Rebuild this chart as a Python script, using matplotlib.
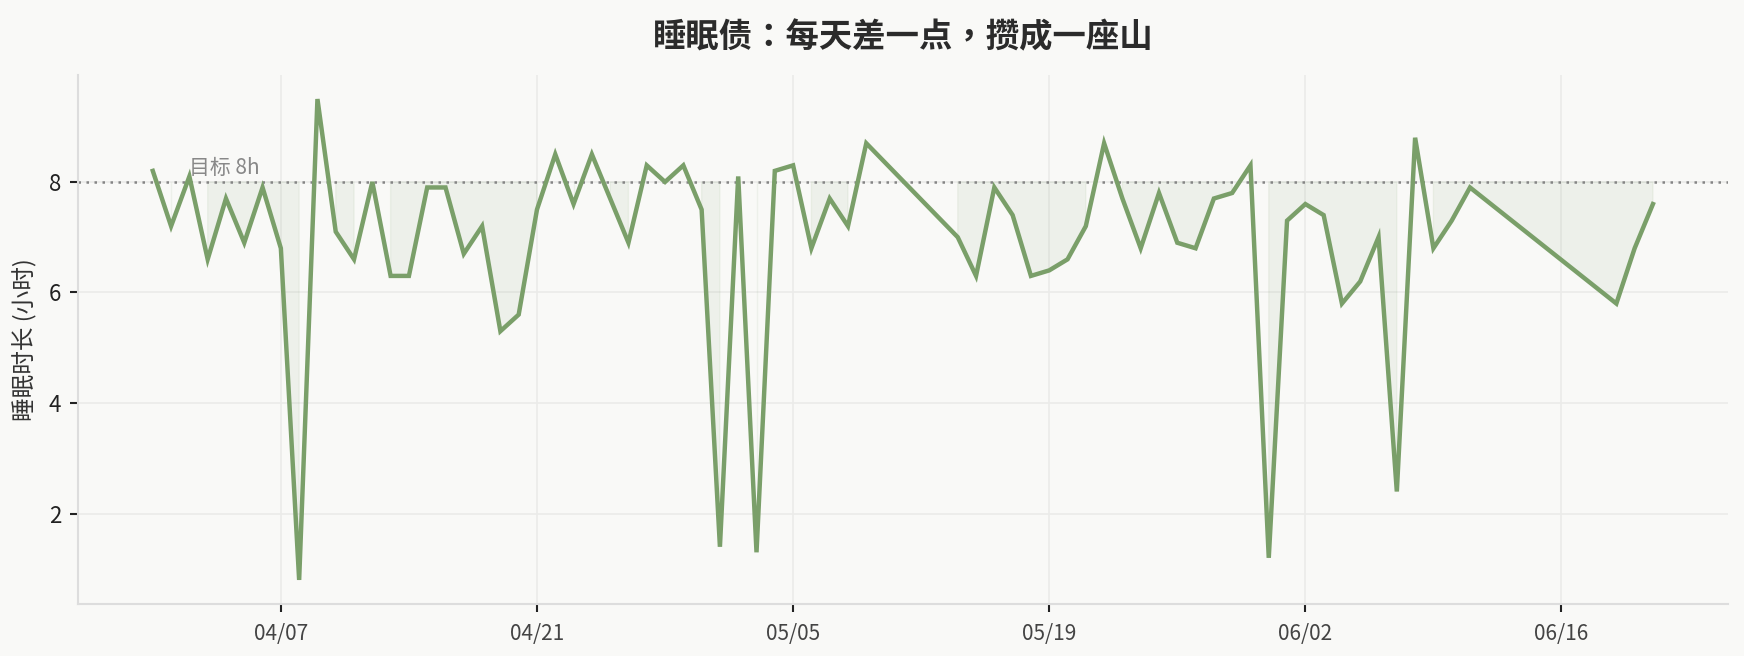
import numpy as np
import pandas as pd
import matplotlib
matplotlib.use("Agg")
import matplotlib.pyplot as plt
import matplotlib.dates as mdates

plt.rcParams['font.family'] = ['Noto Sans CJK SC', 'DejaVu Sans']

# --- data: nightly sleep, with a few days not logged ---
date_blocks = [("2024-03-31", "2024-05-09"),
               ("2024-05-14", "2024-06-11"),
               ("2024-06-19", "2024-06-21")]
hours = np.array([
    8.2, 7.2, 8.1, 6.6, 7.7, 6.9, 7.9, 6.8, 0.8, 9.5,
    7.1, 6.6, 8.0, 6.3, 6.3, 7.9, 7.9, 6.7, 7.2, 5.3,
    5.6, 7.5, 8.5, 7.6, 8.5, 7.7, 6.9, 8.3, 8.0, 8.3,
    7.5, 1.4, 8.1, 1.3, 8.2, 8.3, 6.8, 7.7, 7.2, 8.7,
    7.0, 6.3, 7.9, 7.4, 6.3, 6.4, 6.6, 7.2, 8.7, 7.7,
    6.8, 7.8, 6.9, 6.8, 7.7, 7.8, 8.3, 1.2, 7.3, 7.6,
    7.4, 5.8, 6.2, 7.0, 2.4, 8.8, 6.8, 7.3, 7.9,
    5.8, 6.8, 7.6,
])
target = 8
tick_dates = ["2024-04-07", "2024-04-21", "2024-05-05",
              "2024-05-19", "2024-06-02", "2024-06-16"]

dates = pd.DatetimeIndex(np.concatenate(
    [pd.date_range(a, b, freq="D") for a, b in date_blocks]))

green = "#7a9f69"
bg = "#f9f9f7"

fig, ax = plt.subplots(figsize=(17.44, 6.56), dpi=100)
fig.patch.set_facecolor(bg)
ax.set_facecolor(bg)
fig.subplots_adjust(left=0.0446, right=0.9908, top=0.8857, bottom=0.0793)

# shortfall area under the target
ax.fill_between(dates, hours, target, where=hours < target,
                color=green, alpha=0.09)
ax.plot(dates, hours, color=green, lw=3.2, solid_joinstyle="miter")
ax.axhline(target, color="#858585", lw=1.8, ls=(0, (1, 2.2)), zorder=1)
ax.text(dates[2], target + 0.06, "目标 8h", color="#888888",
        fontsize=15, va="bottom", ha="left")

ax.set_title("睡眠债：每天差一点，攒成一座山", fontsize=24, fontweight="bold",
             color="#2b2b2b", pad=20,
             family=["Noto Sans CJK TC", "DejaVu Sans"])
ax.set_ylabel("睡眠时长 (小时)", fontsize=17, color="#333333", labelpad=8)

ax.set_xticks(pd.to_datetime(tick_dates))
ax.xaxis.set_major_formatter(mdates.DateFormatter("%m/%d"))
ax.set_yticks([2, 4, 6, 8])

ax.tick_params(axis="x", labelsize=15, colors="#444444", length=6, width=1.5,
               pad=8)
ax.tick_params(axis="y", labelsize=16, labelcolor="#222222", color="#222222",
               length=6, width=1.5, pad=6)
ax.tick_params(axis="x", color="#222222")

ax.grid(True, color="#ebebe9", lw=1.2)
ax.set_axisbelow(True)
for side in ["top", "right"]:
    ax.spines[side].set_visible(False)
for side in ["left", "bottom"]:
    ax.spines[side].set_color("#dddddd")
    ax.spines[side].set_linewidth(1.5)

fig.savefig("out.png", dpi=100, facecolor=bg)
